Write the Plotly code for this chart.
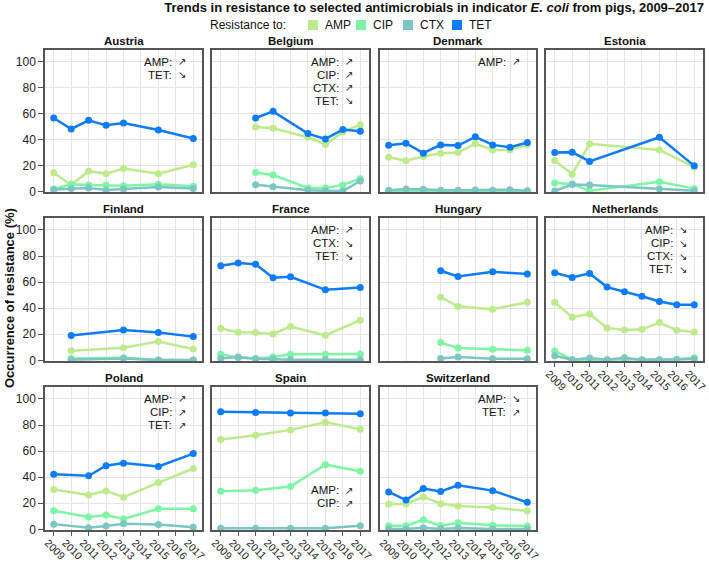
import plotly.graph_objects as go

# ---------------- data ----------------
countries = ["Austria", "Belgium", "Denmark", "Estonia",
             "Finland", "France", "Hungary", "Netherlands",
             "Poland", "Spain", "Switzerland"]

years = {
    "Austria":     [2009, 2010, 2011, 2012, 2013, 2015, 2017],
    "Belgium":     [2011, 2012, 2014, 2015, 2016, 2017],
    "Denmark":     [2009, 2010, 2011, 2012, 2013, 2014, 2015, 2016, 2017],
    "Estonia":     [2009, 2010, 2011, 2015, 2017],
    "Finland":     [2010, 2013, 2015, 2017],
    "France":      [2009, 2010, 2011, 2012, 2013, 2015, 2017],
    "Hungary":     [2012, 2013, 2015, 2017],
    "Netherlands": [2009, 2010, 2011, 2012, 2013, 2014, 2015, 2016, 2017],
    "Poland":      [2009, 2011, 2012, 2013, 2015, 2017],
    "Spain":       [2009, 2011, 2013, 2015, 2017],
    "Switzerland": [2009, 2010, 2011, 2012, 2013, 2015, 2017],
}

amp = {
    "Austria":     [14.4, 4.9, 15.6, 13.6, 17.7, 13.6, 20.5],
    "Belgium":     [49.7, 48.7, 41.8, 36.2, 45.9, 51.5],
    "Denmark":     [26.4, 23.6, 26.9, 29.5, 30.0, 36.9, 32.0, 32.0, 36.2],
    "Estonia":     [23.8, 13.3, 36.7, 32.0, 18.7],
    "Finland":     [7.4, 9.7, 14.4, 8.7],
    "France":      [24.4, 21.5, 21.3, 20.3, 25.9, 19.2, 30.8],
    "Hungary":     [48.5, 41.3, 39.2, 44.6],
    "Netherlands": [44.6, 33.1, 35.6, 24.9, 23.3, 23.8, 29.0, 23.1, 21.8],
    "Poland":      [30.5, 26.4, 29.5, 24.6, 35.9, 46.7],
    "Spain":       [68.9, 72.2, 76.3, 82.2, 76.8],
    "Switzerland": [19.5, 19.5, 24.9, 19.7, 17.9, 16.8, 14.0],
}

cip = {
    "Austria":     [1.8, 5.4, 5.0, 4.7, 4.4, 5.4, 4.0],
    "Belgium":     [14.6, 12.6, 2.6, 2.6, 5.0, 9.7],
    "Denmark":     [0.5, 0.3, 0.4, 0.3, 0.5, 0.4, 0.5, 0.6, 0.3],
    "Estonia":     [6.4, 5.6, 0.5, 7.4, 2.1],
    "Finland":     [1.5, 2.0, 0.3, 0.3],
    "France":      [4.6, 2.0, 1.5, 2.6, 4.6, 4.6, 4.9],
    "Hungary":     [13.6, 9.5, 8.5, 7.7],
    "Netherlands": [7.2, 0.5, 0.5, 0.5, 0.8, 0.3, 0.5, 0.8, 2.0],
    "Poland":      [14.3, 9.4, 11.0, 7.9, 15.8, 15.8],
    "Spain":       [29.2, 30.0, 32.8, 49.6, 44.6],
    "Switzerland": [2.7, 2.7, 7.3, 2.7, 5.0, 3.2, 2.5],
}

ctx = {
    "Austria":     [1.5, 2.3, 2.6, 1.0, 1.8, 3.3, 2.3],
    "Belgium":     [5.1, 3.6, 0.8, 0.5, 0.2, 8.0],
    "Denmark":     [0.8, 1.9, 1.7, 0.9, 0.9, 1.0, 0.9, 1.2, 0.5],
    "Estonia":     [0.3, 5.3, 5.0, 1.8, 0.5],
    "Finland":     [0.5, 1.5, 0.2, 0.2],
    "France":      [1.5, 2.6, 1.3, 1.0, 0.5, 0.5, 0.5],
    "Hungary":     [1.5, 2.6, 1.3, 1.3],
    "Netherlands": [3.6, 0.5, 1.8, 0.5, 2.0, 0.5, 0.5, 0.5, 1.0],
    "Poland":      [4.0, 1.2, 2.5, 4.2, 3.7, 1.7],
    "Spain":       [0.8, 0.8, 0.8, 0.8, 2.8],
    "Switzerland": [0.5, 0.2, 1.3, 0.2, 1.0, 0.2, 0.2],
}

tet = {
    "Austria":     [56.7, 48.2, 54.9, 51.0, 52.8, 47.4, 40.8],
    "Belgium":     [56.7, 61.8, 44.6, 40.5, 47.7, 46.4],
    "Denmark":     [35.6, 37.2, 29.5, 35.9, 35.4, 42.1, 35.9, 34.1, 37.7],
    "Estonia":     [30.0, 30.3, 23.1, 41.8, 19.7],
    "Finland":     [19.0, 23.3, 21.3, 18.2],
    "France":      [72.6, 74.6, 73.8, 63.3, 64.1, 54.1, 55.9],
    "Hungary":     [68.7, 64.3, 67.9, 66.2],
    "Netherlands": [67.2, 63.6, 66.7, 56.2, 52.6, 49.2, 45.1, 42.6, 42.6],
    "Poland":      [42.3, 41.1, 48.8, 50.8, 48.3, 58.1],
    "Spain":       [90.2, 89.7, 89.2, 89.2, 88.6],
    "Switzerland": [28.7, 22.5, 31.3, 29.0, 33.8, 29.7, 20.7],
}

drug_names = ["AMP", "CIP", "CTX", "TET"]
drug_colors = ["#BDEB8C", "#7DF5A3", "#7CC5C5", "#0D7CF6"]

trend_labels = {
    "Austria": ["AMP:", "TET:"],
    "Belgium": ["AMP:", "CIP:", "CTX:", "TET:"],
    "Denmark": ["AMP:"],
    "France": ["AMP:", "CTX:", "TET:"],
    "Netherlands": ["AMP:", "CIP:", "CTX:", "TET:"],
    "Poland": ["AMP:", "CIP:", "TET:"],
    "Spain": ["AMP:", "CIP:"],
    "Switzerland": ["AMP:", "TET:"],
}
trend_arrows = {
    "Austria": ["↗", "↘"],
    "Belgium": ["↗", "↗", "↗", "↘"],
    "Denmark": ["↗"],
    "France": ["↗", "↘", "↘"],
    "Netherlands": ["↘", "↘", "↘", "↘"],
    "Poland": ["↗", "↗", "↗"],
    "Spain": ["↗", "↗"],
    "Switzerland": ["↘", "↗"],
}
trend_top = {"Spain": 30}

y_ticks = [0, 20, 40, 60, 80, 100]
x_ticks = list(range(2009, 2018))

# ---------------- layout ----------------
W, H = 709, 562
col_px = [(45, 202), (212, 369), (380, 536), (546, 703)]
row_px = [(50, 192), (218, 361), (387, 530)]
FONT = "Liberation Sans, Arial, sans-serif"
FRAME = "#555555"
TXT = "#111111"

fig = go.Figure()
layout = {}
annotations = []
shapes = []

for i, country in enumerate(countries):
    r, c = divmod(i, 4)
    n = i + 1
    xa = "xaxis" if n == 1 else f"xaxis{n}"
    ya = "yaxis" if n == 1 else f"yaxis{n}"
    xr = "x" if n == 1 else f"x{n}"
    yr = "y" if n == 1 else f"y{n}"
    x0, x1 = col_px[c]
    y0, y1 = row_px[r]
    show_x = (r == 2) or country == "Netherlands"
    show_y = (c == 0)
    layout[xa] = dict(
        domain=[x0 / W, x1 / W], anchor=yr, range=[2008.5, 2017.5],
        automargin=False,
        tickvals=x_ticks, ticktext=[str(v) for v in x_ticks],
        showgrid=True, gridcolor="#e4e4e4", gridwidth=1,
        showline=True, mirror=True, linecolor=FRAME, linewidth=1.5,
        zeroline=False, ticks="outside" if show_x else "", ticklen=4,
        tickcolor=FRAME, tickwidth=1, showticklabels=show_x, tickangle=45,
        ticklabelshift=-6, ticklabelstandoff=-3,
        tickfont=dict(size=10.5, color="#222222", family=FONT),
    )
    layout[ya] = dict(
        domain=[1 - y1 / H, 1 - y0 / H], anchor=xr, range=[-0.5, 109.2],
        automargin=False,
        tickvals=y_ticks, showgrid=True, gridcolor="#e4e4e4", gridwidth=1,
        showline=True, mirror=True, linecolor=FRAME, linewidth=1.5,
        zeroline=False, ticks="outside" if show_y else "", ticklen=5,
        tickcolor=FRAME, tickwidth=1, showticklabels=show_y,
        tickfont=dict(size=12, color="#222222", family=FONT),
    )

    for dname, dcol, src in zip(drug_names, drug_colors, [amp, cip, ctx, tet]):
        fig.add_trace(go.Scatter(
            x=years[country], y=src[country], mode="lines+markers",
            line=dict(color=dcol, width=2.5), marker=dict(color=dcol, size=7),
            xaxis=xr, yaxis=yr, showlegend=False, name=dname,
        ))

    # panel title
    annotations.append(dict(
        text=f"<b>{country}</b>", x=(x0 + x1) / 2 / W, y=1 - (y0 - 9) / H,
        xref="paper", yref="paper", showarrow=False, xanchor="center",
        yanchor="middle", font=dict(size=11.5, color=TXT, family=FONT),
    ))

    # trend annotations
    if country in trend_labels:
        top = trend_top.get(country, 100)
        for k, (lab, arr) in enumerate(zip(trend_labels[country], trend_arrows[country])):
            yy = top - 10 * k
            annotations.append(dict(
                text=lab, x=2015.9, y=yy, xref=xr, yref=yr, showarrow=False,
                xanchor="right", yanchor="middle",
                font=dict(size=11.5, color=TXT, family=FONT),
            ))
            annotations.append(dict(
                text=arr, x=2016.35, y=yy, xref=xr, yref=yr, showarrow=False,
                xanchor="center", yanchor="middle",
                font=dict(size=10, color=TXT, family="DejaVu Sans"),
            ))

# legend (drawn as key squares + labels)
legend_y = 25
legend_sq_x = [313, 361, 408, 457]
annotations.append(dict(
    text="Resistance to:", x=288 / W, y=1 - legend_y / H, xref="paper", yref="paper",
    showarrow=False, xanchor="right", yanchor="middle",
    font=dict(size=12, color=TXT, family=FONT),
))
for dname, dcol, sx in zip(drug_names, drug_colors, legend_sq_x):
    shapes.append(dict(
        type="rect", xref="paper", yref="paper",
        x0=(sx - 5) / W, x1=(sx + 5) / W,
        y0=1 - (legend_y + 5) / H, y1=1 - (legend_y - 5) / H,
        fillcolor=dcol, line=dict(width=0),
    ))
    annotations.append(dict(
        text=dname, x=(sx + 10) / W, y=1 - legend_y / H, xref="paper", yref="paper",
        showarrow=False, xanchor="left", yanchor="middle",
        font=dict(size=12, color=TXT, family=FONT),
    ))

# y axis title
annotations.append(dict(
    text="<b>Occurrence of resistance (%)</b>", x=9 / W, y=1 - 298 / H,
    xref="paper", yref="paper", showarrow=False, textangle=-90,
    xanchor="center", yanchor="middle",
    font=dict(size=13, color=TXT, family=FONT),
))

fig.update_layout(
    **layout,
    annotations=annotations,
    shapes=shapes,
    width=W, height=H,
    margin=dict(l=0, r=0, t=0, b=0, autoexpand=False),
    paper_bgcolor="white", plot_bgcolor="white",
    title=dict(
        text="<b>Trends in resistance to selected antimicrobials in indicator <i>E. coli</i> from pigs, 2009–2017</b>",
        x=704 / W, xanchor="right", y=1 - 7 / H, yanchor="middle",
        xref="paper", yref="paper", automargin=False,
        font=dict(size=13, color=TXT, family=FONT),
    ),
    showlegend=False,
)

fig.write_html(
    "out.html",
    config={"responsive": False, "displayModeBar": False},
    post_script="document.body.style.margin='0px';document.body.style.overflow='hidden';",
)
